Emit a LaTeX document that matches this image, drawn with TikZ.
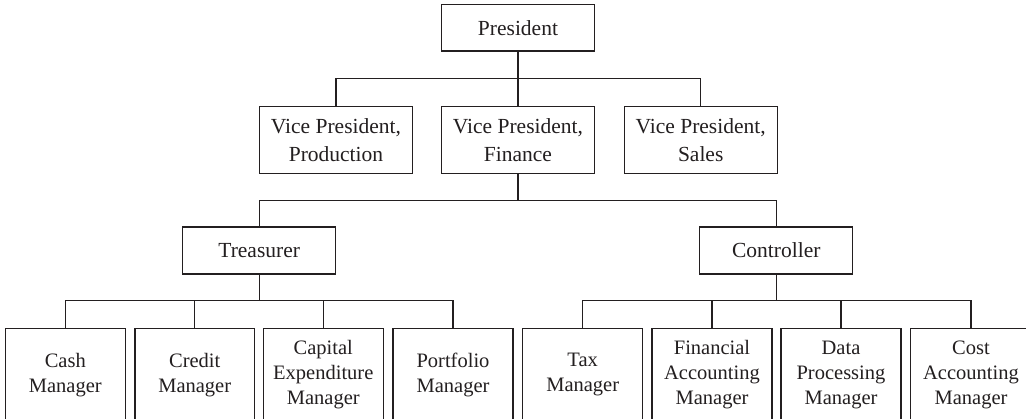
\documentclass[tikz,border=0pt]{standalone}
\usepackage{fontspec}
\setmainfont{Liberation Serif}
\definecolor{ink}{HTML}{231F20}
\begin{document}
\begin{tikzpicture}[x=1pt,y=-1pt,
  box/.style={draw=ink, line width=1.3pt, rectangle, inner sep=0pt, align=center, text=ink,
    font=\fontsize{21.5}{27}\selectfont},
  topbox/.style={box, minimum width=153pt, minimum height=47pt},
  vpbox/.style={box, minimum width=153pt, minimum height=67pt, font=\fontsize{21.5}{28}\selectfont},
  lowbox/.style={box, minimum width=120pt, minimum height=92.7pt, font=\fontsize{20.5}{25}\selectfont},
  link/.style={draw=ink, line width=1.3pt}]
\useasboundingbox (0,0) rectangle (1026,419);
\clip (0,0) rectangle (1026,419);
\fill[white] (0,0) rectangle (1026,419);

\node[topbox, minimum height=46.7pt] (pres) at (518,27.7) {President};
\node[vpbox] (vpp) at (336,139.7) {Vice President,\\Production};
\node[vpbox] (vpf) at (518,139.7) {Vice President,\\Finance};
\node[vpbox] (vps) at (700.7,139.7) {Vice President,\\Sales};
\node[topbox] (tre) at (259.2,250.5) {Treasurer};
\node[topbox] (con) at (776.3,250.5) {Controller};

\node[lowbox] (cash) at (65.3,374.7) {Cash\\Manager};
\node[lowbox, minimum width=119.3pt] (cred) at (194.7,374.7) {Credit\\Manager};
\node[lowbox] (capx) at (323.3,374.7) {Capital\\Expenditure\\Manager};
\node[lowbox] (port) at (453,374.7) {Portfolio\\Manager};
\node[lowbox] (tax) at (582.7,374.7) {Tax\\Manager};
\node[lowbox] (fin) at (712,374.7) {Financial\\Accounting\\Manager};
\node[lowbox] (data) at (841,374.7) {Data\\Processing\\Manager};
\node[lowbox, minimum width=121pt] (cost) at (971,374.7) {Cost\\Accounting\\Manager};

\coordinate (bus1) at (0,78.3);
\coordinate (bus2) at (0,200.7);
\coordinate (bus3) at (0,300.7);

\draw[link] (pres.south) -- (vpf.north);
\draw[link] (vpp.north) -- (vpp.north |- bus1) -- (vps.north |- bus1) -- (vps.north);

\draw[link] (vpf.south) -- (vpf.south |- bus2);
\draw[link] (tre.north) -- (tre.north |- bus2) -- (con.north |- bus2) -- (con.north);

\draw[link] (tre.south) -- (tre.south |- bus3);
\draw[link] (cash.north) -- (cash.north |- bus3) -- (port.north |- bus3) -- (port.north);
\draw[link] (cred.north) -- (cred.north |- bus3);
\draw[link] (capx.north) -- (capx.north |- bus3);

\draw[link] (con.south) -- (con.south |- bus3);
\draw[link] (tax.north) -- (tax.north |- bus3) -- (cost.north |- bus3) -- (cost.north);
\draw[link] (fin.north) -- (fin.north |- bus3);
\draw[link] (data.north) -- (data.north |- bus3);
\end{tikzpicture}
\end{document}
